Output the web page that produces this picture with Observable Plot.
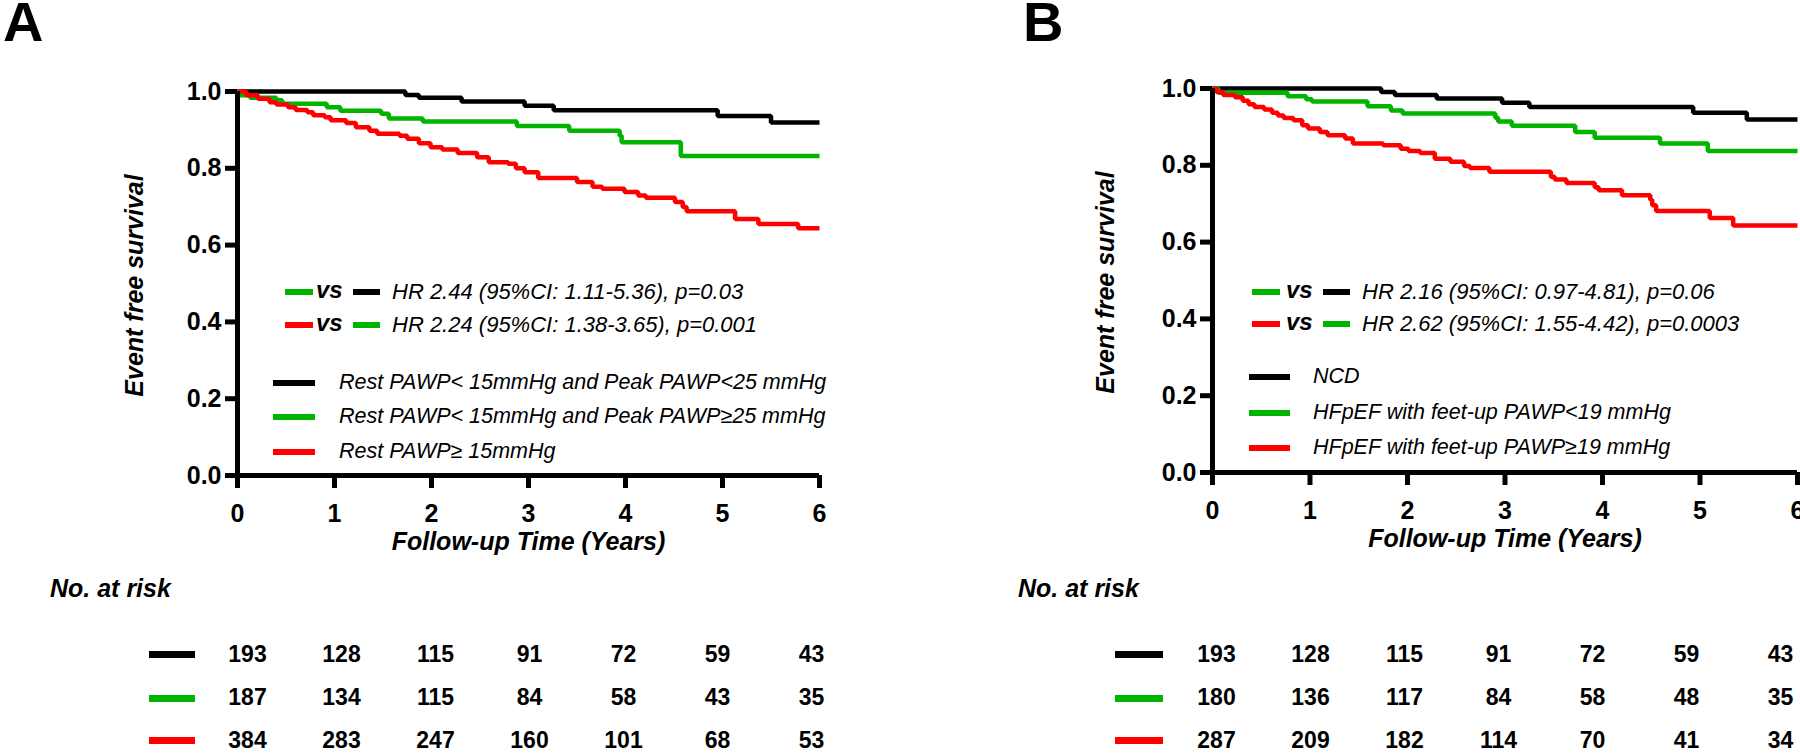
<!DOCTYPE html>
<html><head><meta charset="utf-8">
<script src="https://cdn.jsdelivr.net/npm/d3@7"></script>
<script src="https://cdn.jsdelivr.net/npm/@observablehq/plot@0.6"></script>
<style>
body{margin:0;background:#fff;}
#root{position:relative;width:1800px;height:753px;overflow:hidden;background:#fff;font-family:"Liberation Sans",Arial,Helvetica,sans-serif;color:#000}
.abs{position:absolute;white-space:nowrap}
.plotbox{position:absolute;top:0}
</style></head><body><div id="root"></div>
<script>
// ---------- data ----------
const groupKeys = ["g1", "g2", "g3"];
const groupColors = ["#000000", "#00b400", "#ff0000"];
const xTicks = [0, 1, 2, 3, 4, 5, 6];
const yTicks = [0, 0.2, 0.4, 0.6, 0.8, 1.0];
const panelLetters = ["A", "B"];
const xTitle = "Follow-up Time (Years)";
const yTitle = "Event free survival";
const riskTitle = "No. at risk";

// Panel A survival steps [years, survival]
const aBlack = [[0,1],[1.73,0.991],[1.87,0.984],[2.31,0.974],[2.96,0.963],[3.26,0.951],[4.95,0.936],[5.50,0.919],[6,0.919]];
const aGreen = [[0,1],[0.02,0.99],[0.13,0.984],[0.40,0.977],[0.46,0.968],[0.92,0.959],[1.06,0.95],[1.48,0.942],[1.56,0.93],[1.91,0.922],[2.88,0.91],[3.42,0.898],[3.94,0.885],[3.96,0.868],[4.57,0.832],[6,0.832]];
const aRed = [[0,1],[0.09,0.99],[0.21,0.981],[0.33,0.972],[0.40,0.966],[0.52,0.959],[0.60,0.952],[0.72,0.946],[0.78,0.938],[0.90,0.933],[0.96,0.925],[1.12,0.918],[1.22,0.907],[1.36,0.898],[1.44,0.89],[1.67,0.885],[1.75,0.877],[1.87,0.865],[1.99,0.855],[2.11,0.849],[2.27,0.84],[2.47,0.829],[2.59,0.816],[2.79,0.812],[2.87,0.80],[2.96,0.79],[3.10,0.775],[3.50,0.764],[3.66,0.752],[3.76,0.747],[3.99,0.738],[4.13,0.729],[4.21,0.723],[4.51,0.712],[4.59,0.699],[4.63,0.688],[5.13,0.668],[5.37,0.655],[5.78,0.644],[6,0.644]];

// Panel B survival steps
const bBlack = [[0,1],[1.73,0.991],[1.87,0.983],[2.30,0.974],[2.97,0.963],[3.25,0.952],[4.93,0.937],[5.48,0.919],[6,0.919]];
const bGreen = [[0,1],[0.06,0.989],[0.77,0.98],[0.96,0.972],[1.02,0.966],[1.59,0.954],[1.83,0.943],[1.95,0.935],[2.90,0.924],[2.93,0.914],[3.07,0.903],[3.72,0.887],[3.92,0.872],[4.59,0.857],[5.08,0.837],[6,0.837]];
const bRed = [[0,1],[0.04,0.991],[0.11,0.983],[0.23,0.977],[0.31,0.968],[0.37,0.959],[0.43,0.952],[0.53,0.945],[0.61,0.937],[0.67,0.93],[0.73,0.923],[0.83,0.917],[0.92,0.904],[0.98,0.896],[1.10,0.887],[1.18,0.878],[1.36,0.87],[1.44,0.857],[1.75,0.852],[1.93,0.843],[2.01,0.837],[2.13,0.832],[2.28,0.817],[2.44,0.809],[2.58,0.798],[2.64,0.793],[2.84,0.783],[3.47,0.77],[3.51,0.763],[3.63,0.754],[3.92,0.743],[3.96,0.735],[4.20,0.722],[4.49,0.71],[4.51,0.696],[4.55,0.681],[5.10,0.663],[5.34,0.643],[6,0.643]];

// Numbers at risk
const aRiskBlack = [193,128,115,91,72,59,43];
const aRiskGreen = [187,134,115,84,58,43,35];
const aRiskRed   = [384,283,247,160,101,68,53];
const bRiskBlack = [193,128,115,91,72,59,43];
const bRiskGreen = [180,136,117,84,58,48,35];
const bRiskRed   = [287,209,182,114,70,41,34];

// Legend labels
const aGroupLabels = ["Rest PAWP< 15mmHg and Peak PAWP<25 mmHg", "Rest PAWP< 15mmHg and Peak PAWP\u226525 mmHg", "Rest PAWP\u2265 15mmHg"];
const bGroupLabels = ["NCD", "HFpEF with feet-up PAWP<19 mmHg", "HFpEF with feet-up PAWP\u226519 mmHg"];
const aHrLabels = ["HR 2.44 (95%CI: 1.11-5.36), p=0.03", "HR 2.24 (95%CI: 1.38-3.65), p=0.001"];
const bHrLabels = ["HR 2.16 (95%CI: 0.97-4.81), p=0.06", "HR 2.62 (95%CI: 1.55-4.42), p=0.0003"];
const hrPairs = [[1, 0], [2, 1]]; // indices into groupColors
const vsLabel = "vs";

// ---------- drawing ----------
const FONT = '"Liberation Sans", Arial, Helvetica, sans-serif';
const root = document.getElementById("root");

function mainPlot(series, cfg) {
  const data = [];
  groupKeys.forEach((g, i) => series[i].forEach(([t, s]) => data.push({g, t, s})));
  const H = 560;
  return Plot.plot({
    width: cfg.width, height: H,
    marginLeft: cfg.ml, marginRight: cfg.mr, marginTop: cfg.mt, marginBottom: H - cfg.y0,
    style: {fontFamily: FONT, background: "transparent", color: "#000", overflow: "visible"},
    x: {domain: [0, 6]},
    y: {domain: [0, 1]},
    color: {domain: groupKeys, range: groupColors},
    marks: [
      Plot.axisY({ticks: yTicks, tickSize: 12, tickPadding: 4, tickFormat: d3.format(".1f"), strokeWidth: 5, fontSize: 25, fontWeight: "bold", label: null}),
      Plot.axisX({ticks: xTicks, tickSize: 13, tickPadding: 16, tickFormat: d3.format("d"), strokeWidth: 5, fontSize: 25, fontWeight: "bold", label: null}),
      Plot.line(data, {x: "t", y: "s", z: "g", stroke: "g", curve: "step-after", strokeWidth: 4.5, strokeLinecap: "butt", strokeLinejoin: "miter"}),
      Plot.ruleX([0], {strokeWidth: 5}),
      Plot.ruleY([0], {strokeWidth: 5}),
      Plot.text([yTitle], {frameAnchor: "left", dx: cfg.ytdx, dy: 2, rotate: -90, textAnchor: "middle", lineAnchor: "middle", fontSize: 25, fontWeight: "bold", fontStyle: "italic"}),
      Plot.text([xTitle], {frameAnchor: "bottom", dy: 66, textAnchor: "middle", lineAnchor: "middle", fontSize: 25, fontWeight: "bold", fontStyle: "italic"})
    ]
  });
}

function riskPlot(counts, cfg) {
  const data = [];
  groupKeys.forEach((g, i) => counts[i].forEach((n, j) => data.push({g, t: xTicks[j], n})));
  return Plot.plot({
    width: cfg.width, height: 753, margin: 0,
    style: {fontFamily: FONT, background: "transparent", color: "#000", overflow: "visible"},
    x: {domain: [0, 6], range: [cfg.rx0, cfg.rx0 + 564], axis: null},
    y: {type: "point", domain: groupKeys, range: [654, 740], padding: 0, axis: null},
    marks: [
      Plot.text(data, {x: "t", y: "g", text: "n", fontSize: 23, fontWeight: "bold", lineAnchor: "middle"})
    ]
  });
}

function place(svg, left) {
  const d = document.createElement("div");
  d.className = "plotbox";
  d.style.left = left + "px";
  d.appendChild(svg);
  root.appendChild(d);
}
function addText(txt, x, yc, size, weight, style, lh) {
  const L = lh || size;
  const d = document.createElement("div");
  d.className = "abs";
  d.textContent = txt;
  Object.assign(d.style, {left: x + "px", top: (yc - L / 2) + "px", fontSize: size + "px",
    lineHeight: L + "px", height: L + "px", fontWeight: weight, fontStyle: style});
  root.appendChild(d);
}
function addSwatch(x1, x2, yc, h, color) {
  const d = document.createElement("div");
  d.className = "abs";
  Object.assign(d.style, {left: x1 + "px", top: (yc - h / 2) + "px", width: (x2 - x1) + "px", height: h + "px", background: color});
  root.appendChild(d);
}

const panels = [
  {left: 0, width: 850, ml: 237, mr: 31, mt: 91, y0: 475, ytdx: -103, rx0: 247,
   series: [aBlack, aGreen, aRed], risk: [aRiskBlack, aRiskGreen, aRiskRed],
   groupLabels: aGroupLabels, hrLabels: aHrLabels,
   letterX: 3, hr: {d1: 285, vs: 316, d2: 353, tx: 392, ys: [292, 325]},
   leg: {x1: 273, x2: 315, tx: 339, ys: [383, 417, 452]},
   riskTitleX: 50, riskSw: [149, 195]},
  {left: 975, width: 825, ml: 237, mr: 3, mt: 88, y0: 472, ytdx: -107, rx0: 241,
   series: [bBlack, bGreen, bRed], risk: [bRiskBlack, bRiskGreen, bRiskRed],
   groupLabels: bGroupLabels, hrLabels: bHrLabels,
   letterX: 1023, hr: {d1: 1252, vs: 1286, d2: 1323, tx: 1362, ys: [292, 324]},
   leg: {x1: 1249, x2: 1290, tx: 1313, ys: [377, 413, 448]},
   riskTitleX: 1018, riskSw: [1115, 1163]}
];

panels.forEach((p, k) => {
  place(mainPlot(p.series, p), p.left);
  place(riskPlot(p.risk, p), p.left);
  addText(panelLetters[k], p.letterX, 22, 56, "bold", "normal", 44);
  // HR legend
  p.hrLabels.forEach((lab, i) => {
    const y = p.hr.ys[i];
    addSwatch(p.hr.d1, p.hr.d1 + 28, y, 6, groupColors[hrPairs[i][0]]);
    addText(vsLabel, p.hr.vs, y - 2, 24, "bold", "italic");
    addSwatch(p.hr.d2, p.hr.d2 + 27, y, 6, groupColors[hrPairs[i][1]]);
    addText(lab, p.hr.tx, y, 22, "normal", "italic");
  });
  // group legend
  p.groupLabels.forEach((lab, i) => {
    const y = p.leg.ys[i];
    addSwatch(p.leg.x1, p.leg.x2, y, 6, groupColors[i]);
    addText(lab, p.leg.tx, y, 21.5, "normal", "italic");
  });
  // risk table
  addText(riskTitle, p.riskTitleX, 588, 25, "bold", "italic");
  [654, 698, 740].forEach((y, i) => addSwatch(p.riskSw[0], p.riskSw[1], y, 7, groupColors[i]));
});
</script>
</body></html>
